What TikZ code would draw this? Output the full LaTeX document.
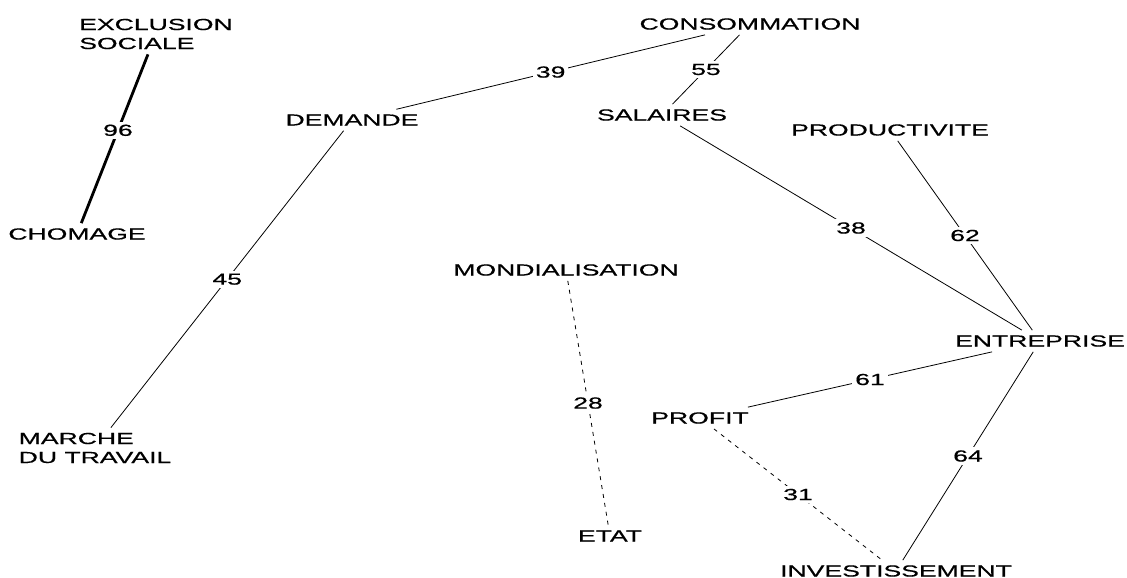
\documentclass[tikz,border=0pt]{standalone}
\usepackage{fontspec}
\newfontfamily\diagfont[FakeStretch=1.66,FakeBold=0.6]{Liberation Sans}
\begin{document}
\begin{tikzpicture}[x=1pt,y=-1pt,
    concept/.style={font=\diagfont\fontsize{16}{19}\selectfont, inner sep=5pt, align=left},
    weight/.style={font=\diagfont\fontsize{16}{19}\selectfont, fill=white, inner sep=3pt},
    link/.style={line width=.8pt},
    strong/.style={line width=2.8pt},
    weak/.style={line width=.8pt, dash pattern=on 4pt off 5pt}]

\useasboundingbox (0,0) rectangle (1127,578);

%-------------------------------------------- Concepts
\node[concept] (exclusion) at (156,34) {EXCLUSION\\SOCIALE};
\node[concept] (chomage) at (77,234) {CHOMAGE};
\node[concept] (demande) at (352,120) {DEMANDE};
\node[concept] (marche) at (95,448) {MARCHE\\DU TRAVAIL};
\node[concept] (consommation) at (750,24) {CONSOMMATION};
\node[concept] (salaires) at (662,115) {SALAIRES};
\node[concept] (productivite) at (890,130) {PRODUCTIVITE};
\node[concept] (mondialisation) at (566,270) {MONDIALISATION};
\node[concept] (etat) at (610,536) {ETAT};
\node[concept] (entreprise) at (1040,341) {ENTREPRISE};
\node[concept] (profit) at (700,418) {PROFIT};
\node[concept] (investissement) at (896,571) {INVESTISSEMENT};

%-------------------------------------------- Links
\draw[strong] (exclusion) -- node[weight,pos=.45]{96} (chomage);   % strongest
\draw[link] (demande) -- node[weight]{39} (consommation);
\draw[link] (salaires) -- node[weight]{55} (consommation);
\draw[link] (demande) -- node[weight]{45} (marche);
\draw[link] (salaires) -- node[weight]{38} (entreprise);
\draw[link] (productivite) -- node[weight]{62} (entreprise);
\draw[link] (profit) -- node[weight]{61} (entreprise);
\draw[link] (entreprise) -- node[weight]{64} (investissement);

%-------------------------------------------- Weak links
\draw[weak] (mondialisation) -- node[weight]{28} (etat);
\draw[weak] (profit) -- node[weight]{31} (investissement);

\end{tikzpicture}
\end{document}
